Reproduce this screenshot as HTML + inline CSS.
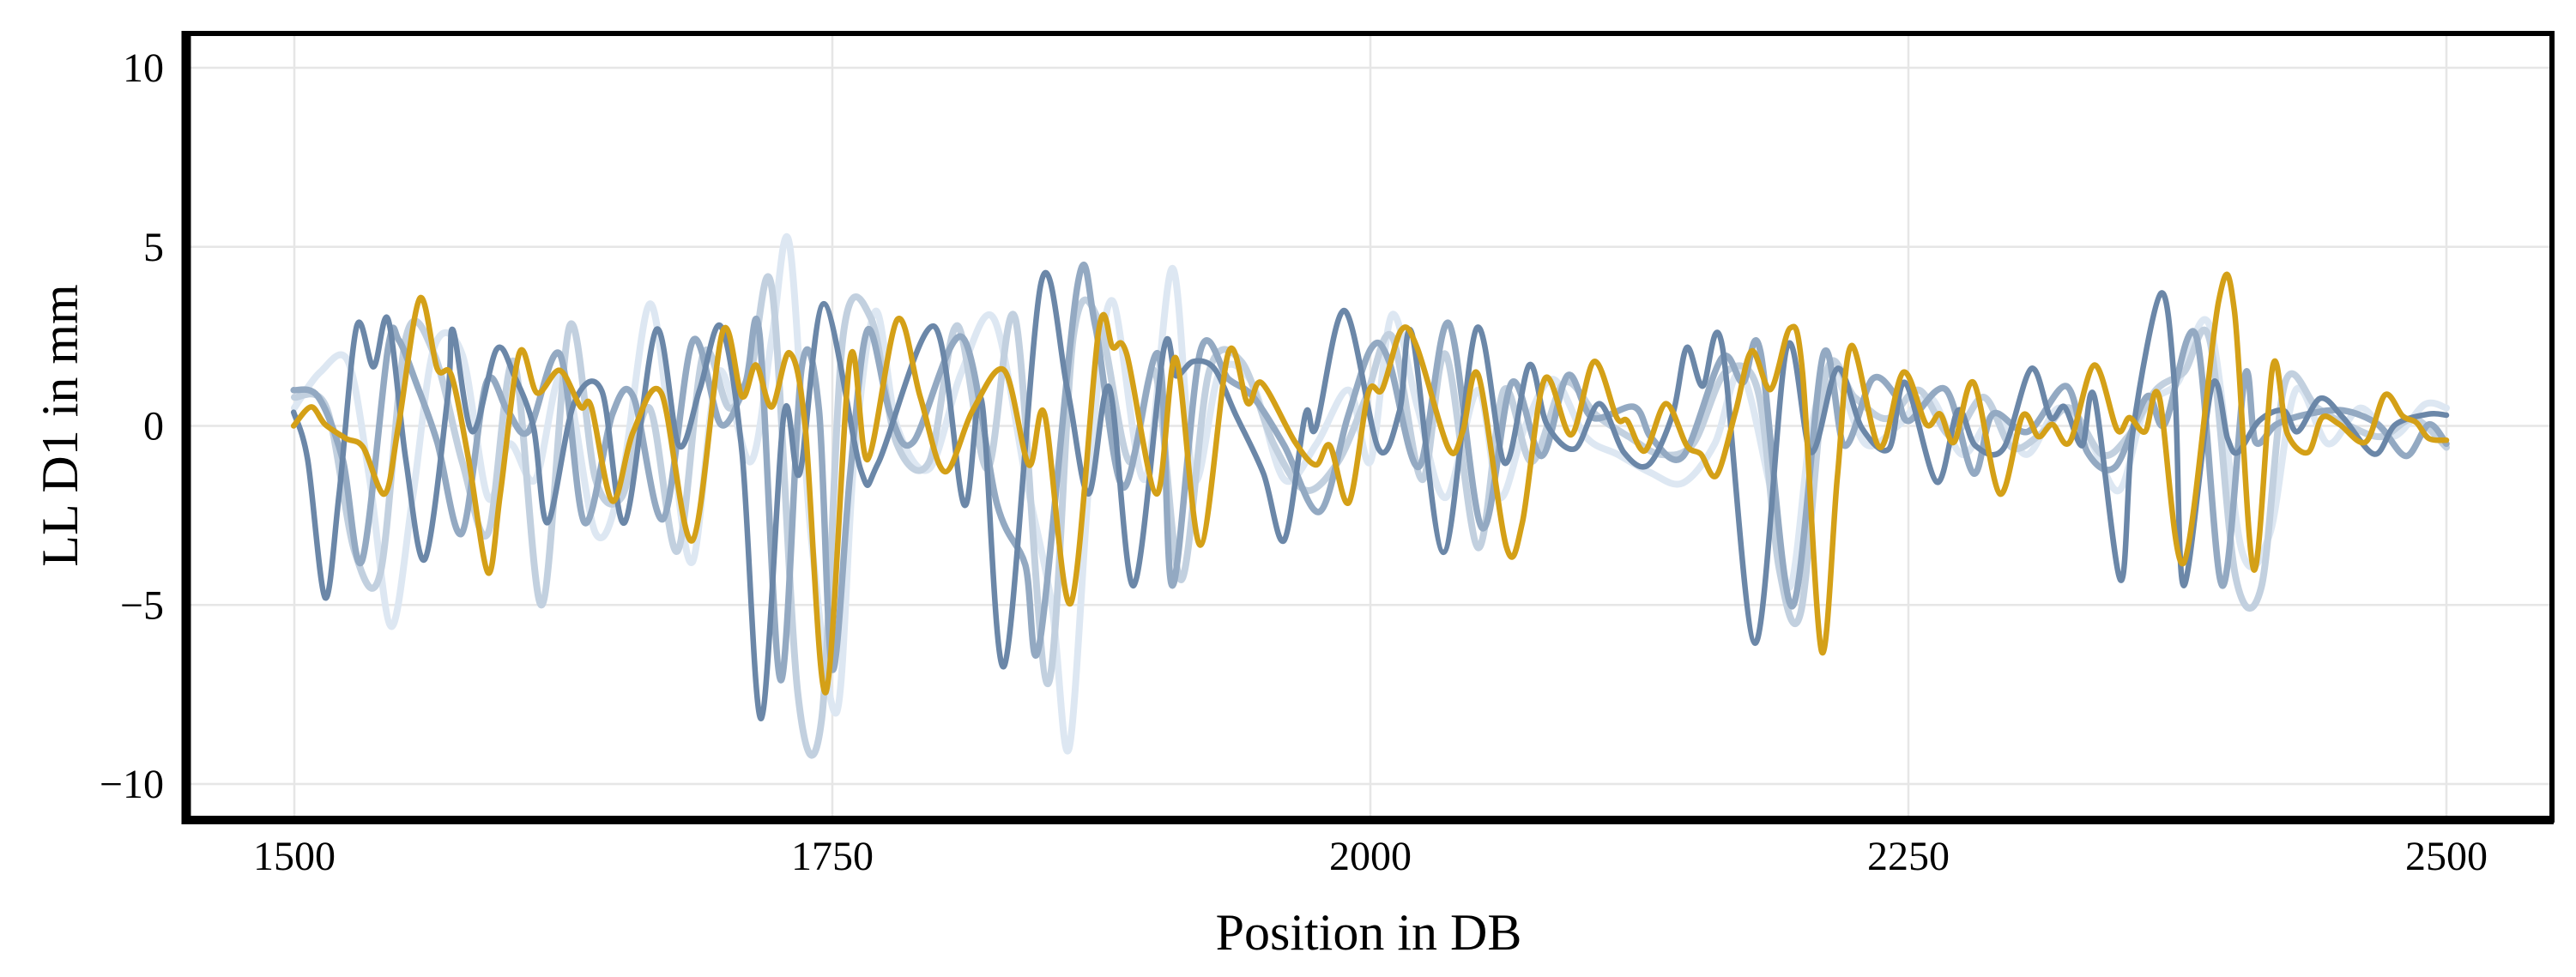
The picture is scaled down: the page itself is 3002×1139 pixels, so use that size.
<!DOCTYPE html>
<html><head><meta charset="utf-8"><style>
html,body{margin:0;padding:0;background:#fff;}
svg{display:block;}
text{font-family:"Liberation Serif","DejaVu Serif",serif;fill:#000;}
</style></head><body>
<svg id="chart" width="3002" height="1139" viewBox="0 0 3002 1139" xmlns="http://www.w3.org/2000/svg">
<g id="grid"></g>
<g id="series"></g>
<g id="frame">
<rect x="217" y="39" width="2757" height="917" fill="none" stroke="#000" stroke-width="6"/>
<line x1="217" y1="36" x2="217" y2="961" stroke="#000" stroke-width="11"/>
<line x1="212" y1="956" x2="2976" y2="956" stroke="#000" stroke-width="10"/>
</g>
<g id="yticks"></g>
<g id="xticks"></g>
<text x="1595" y="1107" font-size="60" text-anchor="middle">Position in DB</text>
<text transform="translate(90,496) rotate(-90)" font-size="60" text-anchor="middle">LL D1 in mm</text>
</svg>
<script>
const xTicks=[1500,1750,2000,2250,2500];
const yTicks=[-10,-5,0,5,10];
const yTickLabels=["\u221210","\u22125","0","5","10"];
const seriesNames=["run-c","run-b","run-a","run-dark","run-gold"];
const seriesColors=["#dde7f2","#c2d0df","#93a9c2","#6b87a8","#d4a017"];
const seriesWidths=[8,8,7.5,6.5,6.5];
const posC=[1500,1512,1525,1535,1545,1555,1565,1578,1590,1600,1612,1625,1640,1652,1665,1675,1685,1697,1712,1722,1730,1740,1752,1760,1770,1780,1795,1810,1825,1840,1852,1860,1870,1880,1895,1908,1918,1930,1945,1960,1975,1990,2000,2010,2022,2035,2050,2060,2072,2085,2100,2115,2130,2145,2160,2172,2185,2195,2205,2215,2230,2245,2260,2275,2290,2305,2320,2335,2348,2360,2375,2390,2405,2418,2430,2445,2460,2475,2490,2500];
const valC=[0.5,1.5,1.8,-1.5,-5.6,-2.0,2.2,2.0,-2.0,-0.5,-1.5,1.5,-3.0,-1.5,3.4,-0.3,-3.8,1.5,-1.0,2.5,5.1,-3.0,-8.0,-1.0,3.2,0.0,-1.2,1.5,3.0,-1.5,-5.0,-9.0,-1.0,3.5,-1.5,4.4,-1.5,1.5,1.2,-1.5,-0.5,1.0,-1.0,3.1,0.5,-2.0,1.0,-2.0,0.0,1.3,-0.3,-0.8,-1.3,-1.6,-0.5,1.5,-1.5,-4.5,0.0,1.5,-0.5,0.0,0.8,-0.8,0.3,-0.8,0.5,-0.5,-1.8,0.5,1.2,2.8,-3.5,-3.0,1.0,-0.5,0.5,-0.3,0.6,0.5];
const posB=[1500,1515,1528,1540,1552,1565,1578,1590,1602,1615,1628,1640,1652,1665,1678,1690,1702,1712,1722,1734,1745,1755,1768,1780,1795,1808,1822,1835,1850,1862,1874,1888,1900,1912,1925,1940,1955,1970,1985,1998,2010,2024,2035,2050,2062,2075,2090,2105,2120,2135,2150,2165,2180,2190,2200,2212,2225,2240,2255,2270,2285,2298,2312,2325,2340,2352,2365,2378,2390,2402,2414,2425,2440,2455,2470,2485,2500];
const valB=[0.8,0.5,-3.5,-4.1,2.5,2.0,-1.0,-3.0,1.8,-5.0,2.8,-1.5,-2.0,0.5,-3.5,2.0,0.5,1.5,3.8,-7.5,-8.2,2.5,3.0,-0.5,-1.0,2.8,-1.2,3.0,-7.2,2.5,2.9,-1.0,1.5,-4.3,1.5,1.8,-0.5,-1.8,-1.0,0.8,2.5,-1.5,2.0,-3.4,1.0,-1.0,1.2,0.3,-0.3,-0.8,-0.5,1.5,1.0,-4.0,-5.2,1.5,0.8,0.2,1.0,-0.3,0.8,-0.6,-0.2,0.5,-0.8,-0.3,1.0,1.5,2.4,-4.2,-4.5,1.2,0.5,0.0,-0.3,0.2,-0.6];
const posA=[1499.7,1511,1522.5,1531.4,1543.6,1548.5,1556.6,1566.4,1577.8,1589.2,1599,1608.7,1623.4,1634.8,1647.8,1657.5,1671.4,1685.2,1698.2,1709.6,1716.1,1726,1735.7,1743.8,1750,1758.3,1766.4,1777,1787.6,1810.3,1826.6,1839.6,1846.2,1864,1872.2,1885.2,1901.5,1908,1921,1934,1945.4,1960,1976.3,1989.4,2000.6,2008.7,2022.6,2036.4,2051.9,2065.7,2079.5,2091.7,2103.1,2122.6,2130.8,2145.4,2163.3,2173.1,2181.2,2195.9,2210.5,2220.3,2233.3,2244.4,2250.2,2267.3,2280.3,2289.2,2305.5,2323.4,2333.2,2346.2,2360.8,2369,2383.6,2395.8,2406.4,2411.3,2421,2435.7,2452,2468.2,2481.3,2491.8,2500];
const valA=[1.0,0.82,-0.94,-3.77,2.19,2.4,1.2,-0.45,-3.0,1.2,0.43,-0.16,2.0,-2.7,0.33,0.82,-2.6,2.38,0.04,1.2,2.58,-7.1,1.6,0.43,-6.8,-1.33,2.68,0.33,-0.45,2.48,-2.2,-3.87,-6.1,3.95,2.78,-1.72,2.0,-4.46,2.09,1.31,0.82,-0.55,-2.4,0.23,2.19,1.8,-1.14,2.87,-2.85,1.21,-0.84,1.41,0.23,0.53,-0.35,-0.84,1.9,1.21,2.09,-5.04,2.0,-0.55,1.31,0.82,0.14,1.02,-1.33,0.33,-0.16,1.11,-0.74,-1.14,0.82,0.04,2.53,-4.46,1.41,-0.45,0.04,0.33,0.43,0.04,-0.84,0.04,-0.5];
const posD=[1499.7,1506.2,1514.3,1520.8,1529,1536.8,1543.6,1551.8,1560.7,1571.3,1573.7,1582.7,1594,1602.2,1611.2,1617.7,1629.9,1642.9,1653.5,1668.1,1678.7,1688.4,1698.2,1708,1717,1727.5,1734.8,1746,1763.2,1771.3,1797.3,1811.2,1819.3,1829.9,1847,1859.2,1869,1878.7,1890,1904,1909.6,1917.7,1927.5,1937.3,1950.3,1960,1969.8,1974.7,1988,2003.8,2013.6,2019.3,2034,2049.4,2062.4,2073.8,2082,2095,2106.4,2117.8,2129.2,2140.5,2147,2154.4,2163.3,2178.8,2193.5,2204.8,2217,2228.4,2241,2248.5,2263.2,2273,2281.1,2294.1,2307.1,2316.1,2322.6,2330.7,2336.4,2348.6,2354.3,2367.3,2373.8,2378,2391,2398.3,2403.1,2412.9,2424.3,2430.8,2441.4,2452,2466.6,2476.4,2491.8,2500];
const valD=[0.38,-0.94,-4.8,-1.9,2.78,1.65,2.97,-0.94,-3.72,0.82,2.68,-0.16,2.14,1.4,-0.06,-2.7,0.62,0.97,-2.7,2.68,-0.55,1.02,2.78,-0.74,-8.17,0.33,-1.33,3.41,-1.23,-1.04,2.78,-2.2,0.72,-6.7,4.0,1.02,-1.9,1.07,-4.46,2.14,1.4,1.8,1.6,0.33,-1.33,-3.19,0.33,-0.06,3.22,-0.64,0.43,2.58,-3.53,2.73,-1.04,1.7,0.04,-0.64,0.62,-0.74,-1.09,0.33,2.19,1.11,2.29,-6.07,2.19,-0.74,1.6,-0.06,-0.64,1.21,-1.57,0.43,-0.55,-0.64,1.6,0.23,0.53,-0.55,0.82,-4.31,-0.16,3.7,1.02,-4.46,1.11,-0.35,-0.74,0.14,0.43,-0.16,0.77,0.23,-0.79,0.04,0.33,0.3];
const posG=[1499.7,1507.8,1514.3,1524,1532,1542,1548.5,1558.3,1566.4,1573,1581,1590,1595.7,1604.6,1612.8,1623.4,1633,1638,1647.8,1657.5,1670.5,1685,1699,1708,1714.5,1721.8,1730,1737.3,1747,1758.3,1766.4,1780.2,1790.8,1802.2,1815.2,1829.9,1841.3,1848.6,1860.8,1873.8,1880.3,1886.8,1900.7,1909.6,1921,1934,1943,1949.5,1965,1974.7,1981.2,1990,1999,2005.5,2014.4,2021.7,2036.4,2042.9,2050.2,2063.2,2070.6,2081,2093.3,2104,2114.5,2119.4,2127.5,2137.3,2147,2153.6,2160.9,2169.8,2177.2,2186,2195,2200.8,2209.7,2217,2223.5,2236.6,2247.7,2258.3,2264.8,2271.3,2280.3,2292.5,2303,2310.4,2316.9,2325,2336.4,2347,2352.7,2360,2366.5,2378,2394.2,2401.5,2410.5,2419.4,2426,2435.7,2442.2,2450.3,2462.5,2471.5,2479.6,2486.1,2491.8,2500];
const valG=[0.0,0.53,0.04,-0.35,-0.6,-1.9,0.04,3.56,1.6,1.41,-0.94,-4.1,-1.9,2.04,0.92,1.55,0.53,0.53,-2.1,-0.16,0.92,-3.2,2.63,0.82,1.7,0.53,2.04,0.04,-7.44,1.9,-0.94,2.97,0.82,-1.28,0.43,1.55,-1.09,0.33,-4.95,2.68,2.19,2.0,-1.9,1.9,-3.33,2.04,0.63,1.2,-0.45,-1.09,-0.55,-2.14,0.92,1.02,2.68,2.19,-0.64,-0.16,1.41,-3.38,-2.7,1.31,-0.25,1.8,0.23,0.14,-0.7,0.62,-0.55,-0.79,-1.38,0.43,2.09,1.02,2.73,1.5,-6.3,-1.43,2.24,-0.6,1.5,0.04,0.33,-0.45,1.21,-1.9,0.28,-0.3,0.04,-0.45,1.7,-0.11,0.23,-0.16,0.82,-3.82,3.5,3.2,-4.02,1.7,-0.2,-0.74,0.23,0.04,-0.45,0.87,0.28,0.09,-0.35,-0.4];
const allPos=[posC,posB,posA,posD,posG];
const allVal=[valC,valB,valA,valD,valG];

const NS="http://www.w3.org/2000/svg";
function xs(v){return 343+(v-1500)*2.508;}
function ys(v){return 496.5-v*41.75;}
function mk(tag,attrs,parent){const e=document.createElementNS(NS,tag);for(const k in attrs)e.setAttribute(k,attrs[k]);parent.appendChild(e);return e;}

const grid=document.getElementById('grid');
xTicks.forEach(t=>{
  const l=mk('line',{x1:xs(t),x2:xs(t),y1:39,y2:956,stroke:'#e6e6e6','stroke-width':2.5},grid);
  
  
});
yTicks.forEach(t=>{
  const l=mk('line',{x1:217,x2:2974,y1:ys(t),y2:ys(t),stroke:'#e6e6e6','stroke-width':2.5},grid);
  
  
});
const yt=document.getElementById('yticks');
yTicks.forEach((t,i)=>{
  const e=mk('text',{x:191,y:ys(t)+16,'font-size':48,'text-anchor':'end'},yt);
  e.textContent=yTickLabels[i];
  
  
});
const xt=document.getElementById('xticks');
xTicks.forEach(t=>{
  const e=mk('text',{x:xs(t),y:1014,'font-size':48,'text-anchor':'middle'},xt);
  e.textContent=String(t);
  
  
});

function pathFor(px,pv){
  const p=px.map((x,i)=>[xs(x),ys(pv[i])]);
  let d='M'+p[0][0].toFixed(1)+','+p[0][1].toFixed(1);
  for(let i=0;i<p.length-1;i++){
    const p0=p[i-1]||p[i],p1=p[i],p2=p[i+1],p3=p[i+2]||p[i+1];
    const t=0.16;
    let c1x=p1[0]+(p2[0]-p0[0])*t, c1y=p1[1]+(p2[1]-p0[1])*t;
    let c2x=p2[0]-(p3[0]-p1[0])*t, c2y=p2[1]-(p3[1]-p1[1])*t;
    c1x=Math.min(Math.max(c1x,p1[0]),p2[0]);c2x=Math.min(Math.max(c2x,p1[0]),p2[0]);
    d+='C'+c1x.toFixed(1)+','+c1y.toFixed(1)+' '+c2x.toFixed(1)+','+c2y.toFixed(1)+' '+p2[0].toFixed(1)+','+p2[1].toFixed(1);
  }
  return d;
}
const sg=document.getElementById('series');
allPos.forEach((px,i)=>{
  const e=mk('path',{d:pathFor(px,allVal[i]),fill:'none',stroke:seriesColors[i],'stroke-width':seriesWidths[i],'stroke-linejoin':'round','stroke-linecap':'round'},sg);
  
  
});
</script>
</body></html>
